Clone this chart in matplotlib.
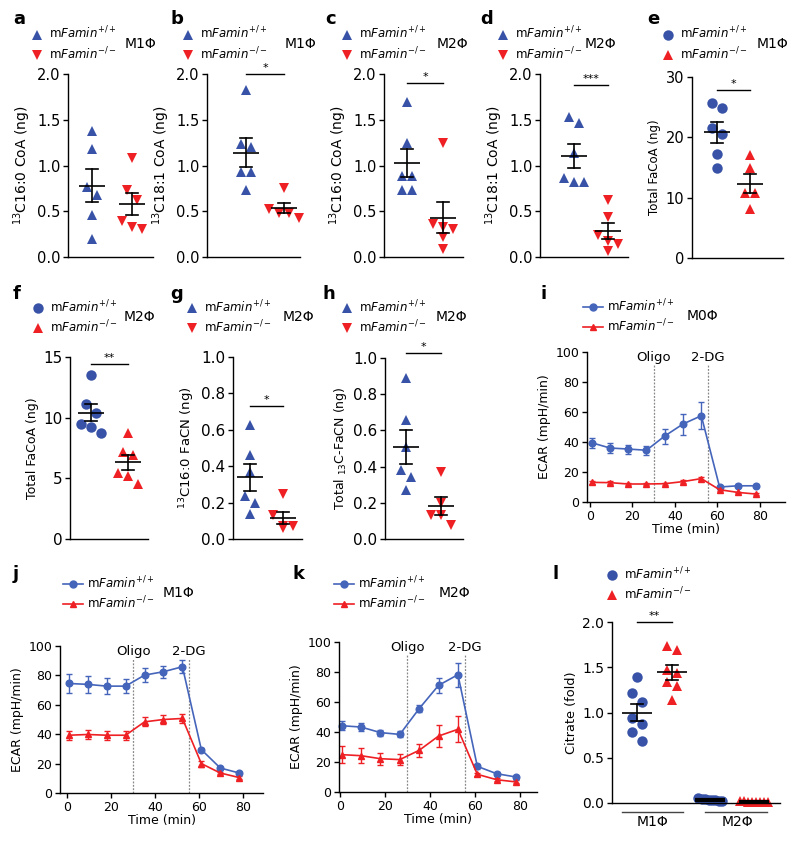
import numpy as np
import matplotlib
matplotlib.use('Agg')
import matplotlib.pyplot as plt
from matplotlib.lines import Line2D
import matplotlib.transforms as mtransforms

W, H = 800, 844
BLUE = '#3752a6'
RED = '#ee2024'
LBLUE = '#4565bb'

plt.rcParams['font.family'] = ['DejaVu Sans']
plt.rcParams['mathtext.fontset'] = 'dejavusans'
plt.rcParams['axes.linewidth'] = 1.0
plt.rcParams['xtick.major.width'] = 1.0
plt.rcParams['ytick.major.width'] = 1.0
plt.rcParams['xtick.major.size'] = 3.5
plt.rcParams['ytick.major.size'] = 3.5

# ---- data: dot plots (ng) ----
a_wt = [1.38, 1.18, 0.77, 0.68, 0.46, 0.20]
a_ko = [1.08, 0.73, 0.62, 0.39, 0.31, 0.33]
b_wt = [1.82, 1.24, 1.20, 0.93, 0.93, 0.73]
b_ko = [0.75, 0.52, 0.48, 0.48, 0.43]
c_wt = [1.69, 1.25, 0.88, 0.88, 0.73, 0.73]
c_ko = [1.25, 0.36, 0.33, 0.31, 0.22, 0.09]
d_wt = [1.53, 1.46, 1.14, 0.86, 0.82, 0.82]
d_ko = [0.62, 0.44, 0.24, 0.18, 0.14, 0.07]
e_wt = [25.7, 24.8, 21.5, 20.6, 17.3, 15.0]
e_ko = [17.1, 15.0, 10.7, 10.7, 8.1]
f_wt = [13.5, 11.1, 10.4, 9.5, 9.2, 8.7]
f_ko = [8.7, 7.2, 6.9, 5.4, 5.2, 4.5]
g_wt = [0.625, 0.46, 0.37, 0.235, 0.20, 0.14]
g_ko = [0.245, 0.13, 0.07, 0.06, 0.07]
h_wt = [0.89, 0.66, 0.51, 0.38, 0.34, 0.27]
h_ko = [0.37, 0.20, 0.13, 0.13, 0.08]

# citrate (fold)
l_m1_wt = [1.39, 1.21, 1.12, 0.94, 0.87, 0.78, 0.69]
l_m1_ko = [1.74, 1.69, 1.47, 1.44, 1.34, 1.29, 1.14]
l_m2_wt = [0.04, 0.03, 0.05, 0.02, 0.03, 0.04, 0.02, 0.03]
l_m2_ko = [0.01, 0.02, 0.01, 0.01, 0.02, 0.01, 0.01, 0.01]

# ---- data: ECAR time courses (mpH/min) ----
time_min = [0.8, 9.4, 18.0, 26.6, 35.2, 43.8, 52.4, 61.0, 69.6, 78.2]
i_wt = [39.5, 36.0, 35.3, 34.5, 44.0, 52.0, 57.5, 10.0, 10.8, 10.8]
i_wt_err = [3.5, 3.5, 3.0, 3.0, 5.0, 7.0, 9.0, 1.0, 1.0, 1.0]
i_ko = [13.1, 12.9, 12.0, 12.0, 12.2, 13.6, 15.6, 8.2, 6.4, 5.3]
i_ko_err = [0.8, 0.8, 0.7, 0.7, 0.7, 0.8, 0.9, 0.8, 0.6, 0.5]
j_wt = [74.5, 73.9, 72.7, 72.7, 80.2, 82.5, 85.9, 29.5, 17.0, 13.6]
j_wt_err = [6.2, 6.0, 5.5, 5.0, 4.5, 4.0, 4.5, 1.0, 1.0, 1.0]
j_ko = [39.3, 39.8, 39.3, 39.3, 48.4, 50.0, 50.7, 20.0, 13.6, 10.5]
j_ko_err = [3.0, 3.0, 3.0, 3.0, 3.0, 3.0, 3.0, 2.0, 1.0, 1.0]
k_wt = [44.2, 43.3, 39.6, 38.4, 55.6, 71.1, 78.2, 17.1, 12.2, 10.0]
k_wt_err = [3.0, 2.5, 2.0, 2.0, 2.5, 5.0, 8.0, 1.5, 1.0, 1.0]
k_ko = [24.9, 24.2, 22.2, 21.6, 27.8, 37.3, 41.8, 11.8, 8.2, 6.7]
k_ko_err = [5.5, 5.0, 4.0, 3.5, 4.4, 7.6, 8.6, 1.0, 1.0, 1.0]

WT_LABEL = r'm$\mathit{Famin}^{+/+}$'
KO_LABEL = r'm$\mathit{Famin}^{-/-}$'

fig = plt.figure(figsize=(W / 100, H / 100), dpi=100)


def px_axes(l, t, r, b):
    ax = fig.add_axes([l / W, 1 - b / H, (r - l) / W, (b - t) / H])
    ax.spines['top'].set_visible(False)
    ax.spines['right'].set_visible(False)
    return ax


def fx(x):
    return x / W


def fy(y):
    return 1 - y / H


def swarm_offsets(vals, py, marker_px, max_width=None):
    """group values that would overlap into rows and centre each row"""
    order = np.argsort(vals)[::-1]
    rows = []
    for idx in order:
        if rows and abs(vals[rows[-1][0]] - vals[idx]) * py < marker_px * 1.1:
            rows[-1].append(idx)
        else:
            rows.append([idx])
    offs = np.zeros(len(vals))
    for row in rows:
        n = len(row)
        step = marker_px
        if max_width is not None and n > 1:
            step = min(step, max_width / (n - 1))
        for k, idx in enumerate(row):
            offs[idx] = (k - (n - 1) / 2) * step
    return offs


def dot_panel(rect, centers, groups, markers, colors, ylim, yticks, ylabel,
              sig=None, fs=10.5, lfs=10, ms=7.5, mean_px=26, positions=None,
              xlim=None, max_width=None, mean_lw=None):
    l, t, r, b = rect
    ax = px_axes(l, t, r, b)
    if positions is None:
        unit = centers[1] - centers[0]
        positions = [0, 1]
        xlim = ((l - centers[0]) / unit, (r - centers[0]) / unit)
    if mean_lw is None:
        mean_lw = [1.2] * len(groups)
    ax.set_xlim(xlim)
    ax.set_ylim(ylim)
    pxx = (r - l) / (xlim[1] - xlim[0])
    pyy = (b - t) / (ylim[1] - ylim[0])
    for i, vals in enumerate(groups):
        vals = np.array(vals, dtype=float)
        mw = None if max_width is None else max_width[i]
        offs = swarm_offsets(vals, pyy, 10, mw) / pxx
        ax.plot(positions[i] + offs, vals, linestyle='none', marker=markers[i],
                color=colors[i], ms=ms, mew=0, clip_on=False, zorder=2)
        m = vals.mean()
        sem = vals.std(ddof=1) / np.sqrt(len(vals))
        hw = mean_px / 2 / pxx
        cw = 6 / pxx
        x0 = positions[i]
        ax.plot([x0 - hw, x0 + hw], [m, m], color='black', lw=mean_lw[i], zorder=3,
                solid_capstyle='butt')
        ax.plot([x0, x0], [m - sem, m + sem], color='black', lw=1.2, zorder=3)
        ax.plot([x0 - cw, x0 + cw], [m + sem, m + sem], color='black', lw=1.2, zorder=3)
        ax.plot([x0 - cw, x0 + cw], [m - sem, m - sem], color='black', lw=1.2, zorder=3)
    ax.set_yticks(yticks)
    ax.set_xticks([])
    ax.tick_params(labelsize=fs, direction='out', pad=2)
    ax.set_ylabel(ylabel, fontsize=lfs, labelpad=3)
    if sig is not None:
        ya, stars = sig
        ax.plot([positions[0], positions[1]], [ya, ya], color='black', lw=1.0,
                clip_on=False)
        ax.annotate(stars, ((positions[0] + positions[1]) / 2, ya),
                    xytext=(0, 0.5), textcoords='offset points', ha='center',
                    va='bottom', fontsize=8, annotation_clip=False)
    return ax


def dot_legend(x, y, wt_marker, ko_marker, cond, cond_x, fs=8.5):
    handles = [Line2D([], [], linestyle='none', marker=wt_marker, color=BLUE, ms=7.5, mew=0),
               Line2D([], [], linestyle='none', marker=ko_marker, color=RED, ms=7.5, mew=0)]
    fig.legend(handles, [WT_LABEL, KO_LABEL], loc='center left',
               bbox_to_anchor=(fx(x), fy(y)), frameon=False, borderpad=0,
               borderaxespad=0, handlelength=1.0, handletextpad=0.5,
               labelspacing=0.3, fontsize=fs)
    if cond:
        fig.text(fx(cond_x), fy(y), cond, fontsize=10, va='center', ha='left')


def line_legend(x, y, cond, cond_x, fs=8.5):
    handles = [Line2D([], [], marker='o', color=LBLUE, ms=5, lw=1.2),
               Line2D([], [], marker='^', color=RED, ms=5, lw=1.2)]
    fig.legend(handles, [WT_LABEL, KO_LABEL], loc='center left',
               bbox_to_anchor=(fx(x), fy(y)), frameon=False, borderpad=0,
               borderaxespad=0, handlelength=1.7, handletextpad=0.35,
               labelspacing=0.3, fontsize=fs)
    fig.text(fx(cond_x), fy(y), cond, fontsize=10, va='center', ha='left')


def ecar_panel(rect, xlim, wt, wt_err, ko, ko_err, fs=9):
    l, t, r, b = rect
    ax = px_axes(l, t, r, b)
    ax.errorbar(time_min, wt, yerr=wt_err, color=LBLUE, marker='o', ms=4.8,
                lw=1.2, elinewidth=1.0, capsize=2.5, capthick=1.0, clip_on=False)
    ax.errorbar(time_min, ko, yerr=ko_err, color=RED, marker='^', ms=4.8,
                lw=1.2, elinewidth=1.0, capsize=2.5, capthick=1.0, clip_on=False)
    for xv, lab in [(30, 'Oligo'), (55.5, '2-DG')]:
        ax.plot([xv, xv], [0, 92], color='#888888', lw=0.9, linestyle=(0, (1.5, 1.2)),
                zorder=0)
        ax.text(xv, 96.5, lab, ha='center', va='center', fontsize=fs + 0.5)
    ax.set_xlim(xlim)
    ax.set_ylim(0, 100)
    ax.set_xticks([0, 20, 40, 60, 80])
    ax.set_yticks([0, 20, 40, 60, 80, 100])
    ax.tick_params(labelsize=fs, direction='out', pad=2)
    ax.set_ylabel('ECAR (mpH/min)', fontsize=fs, labelpad=3)
    ax.set_xlabel('Time (min)', fontsize=fs, labelpad=0)
    return ax


tri_up, tri_dn = '^', 'v'
blue_red = [BLUE, RED]
ticks2 = [0.0, 0.5, 1.0, 1.5, 2.0]
ticks1 = [0.0, 0.2, 0.4, 0.6, 0.8, 1.0]

# row 1
dot_panel((68, 74, 153, 257), (92, 132), [a_wt, a_ko], [tri_up, tri_dn], blue_red,
          (0, 2.0), ticks2, r'$^{13}$C16:0 CoA (ng)')
dot_panel((207, 74, 300, 257), (246, 284), [b_wt, b_ko], [tri_up, tri_dn], blue_red,
          (0, 2.0), ticks2, r'$^{13}$C18:1 CoA (ng)', sig=(2.0, '*'))
dot_panel((384, 74, 463, 257), (407, 443), [c_wt, c_ko], [tri_up, tri_dn], blue_red,
          (0, 2.0), ticks2, r'$^{13}$C16:0 CoA (ng)', sig=(1.9, '*'))
dot_panel((540, 74, 628, 257), (574, 608), [d_wt, d_ko], [tri_up, tri_dn], blue_red,
          (0, 2.0), ticks2, r'$^{13}$C18:1 CoA (ng)', sig=(1.88, '***'))
dot_panel((692, 77, 783, 258), (717, 750), [e_wt, e_ko], ['o', tri_up], blue_red,
          (0, 30), [0, 10, 20, 30], 'Total FaCoA (ng)', sig=(27.9, '*'), lfs=8.5)

# row 2
dot_panel((70, 357, 148, 539), (91, 128), [f_wt, f_ko], ['o', tri_up], blue_red,
          (0, 15), [0, 5, 10, 15], 'Total FaCoA (ng)', sig=(14.45, '**'),
          fs=11, lfs=9)
dot_panel((233, 357, 302, 539), (250, 283), [g_wt, g_ko], [tri_up, tri_dn], blue_red,
          (0, 1.0), ticks1, r'$^{13}$C16:0 FaCN (ng)', sig=(0.73, '*'),
          fs=11, lfs=9.5)
dot_panel((385, 358, 463, 539), (406, 441), [h_wt, h_ko], [tri_up, tri_dn], blue_red,
          (0, 1.0), ticks1, r'Total $_{13}$C-FaCN (ng)', sig=(1.03, '*'),
          fs=11, lfs=9)
ecar_panel((587, 352, 785, 502), (-1.4, 91.8), i_wt, i_wt_err, i_ko, i_ko_err)

# row 3
ecar_panel((60, 646, 263, 793), (-3.2, 89), j_wt, j_wt_err, j_ko, j_ko_err)
ecar_panel((339, 642, 537, 792), (-0.4, 87.5), k_wt, k_wt_err, k_ko, k_ko_err)

ax_l = dot_panel((612, 622, 780, 803), None, [l_m1_wt, l_m1_ko, l_m2_wt, l_m2_ko],
                 ['o', tri_up, 'o', tri_up], [BLUE, RED, BLUE, RED],
                 (0, 2.0), ticks2, 'Citrate (fold)', sig=(2.0, '**'),
                 positions=[0, 1, 2.1, 3.35], xlim=(-0.71, 4.09), mean_px=30,
                 max_width=[None, None, 24, 28], fs=10, lfs=9.3,
                 mean_lw=[1.2, 1.2, 3.0, 3.0])
trans = mtransforms.blended_transform_factory(ax_l.transData, ax_l.transAxes)
for (x0, x1), xc, lab in [((-0.43, 1.31), 0.46, 'M1Φ'), ((1.94, 3.71), 2.86, 'M2Φ')]:
    ax_l.plot([x0, x1], [-0.05, -0.05], color='#444444', lw=1.0, transform=trans,
              clip_on=False)
    ax_l.text(xc, -0.105, lab, transform=trans, ha='center', va='center', fontsize=10)

# legends and condition labels
dot_legend(31, 43.5, tri_up, tri_dn, 'M1Φ', 125)
dot_legend(182, 43.5, tri_up, tri_dn, 'M1Φ', 285)
dot_legend(341, 43.5, tri_up, tri_dn, 'M2Φ', 437)
dot_legend(497, 43.5, tri_up, tri_dn, 'M2Φ', 585)
dot_legend(662, 43.5, 'o', tri_up, 'M1Φ', 757)
dot_legend(32, 317, 'o', tri_up, 'M2Φ', 124)
dot_legend(186, 317, tri_up, tri_dn, 'M2Φ', 283)
dot_legend(341, 317, tri_up, tri_dn, 'M2Φ', 436)
line_legend(583, 316, 'M0Φ', 687)
line_legend(63, 593, 'M1Φ', 163)
line_legend(334, 593, 'M2Φ', 439)
dot_legend(606, 584, 'o', tri_up, '', 0)

# panel letters
for lab, x, y in [('a', 13, 19), ('b', 170, 19), ('c', 325, 19), ('d', 480, 19),
                  ('e', 647, 19), ('f', 13, 294), ('g', 170, 294), ('h', 323, 294),
                  ('i', 540, 294), ('j', 13, 574), ('k', 292, 574), ('l', 553, 574)]:
    fig.text(fx(x), fy(y), lab, fontsize=13, fontweight='bold', va='center', ha='left')

fig.savefig('out.png', dpi=100)
